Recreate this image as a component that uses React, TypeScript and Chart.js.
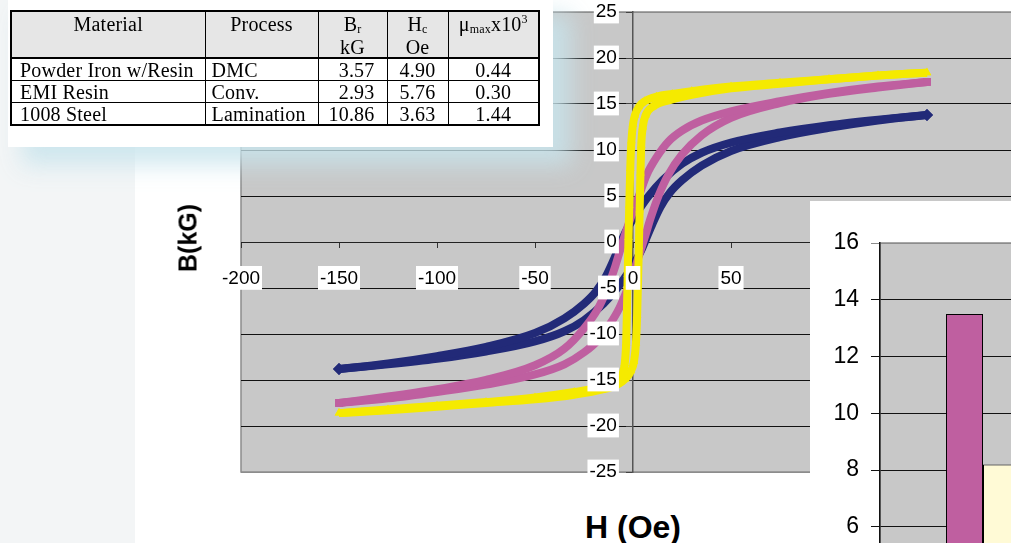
import React, { useEffect, useRef } from 'react';
import { Chart, registerables } from 'chart.js';
Chart.register(...registerables);

type Pt = [number, number];

// ---- Hysteresis loops: [H (Oe), B (kG)] ----
const powderIronUpper: Pt[] = [[150,13.8],[125,13.3],[100,12.7],[75,11.9],[50,10.8],[35,9.7],[25,8.5],[15,6.7],[8,5.0],[3,3.5],[0,2.5],[-4,1.0],[-7,-0.5],[-10,-2.0],[-14,-3.8],[-19,-5.4],[-25,-6.7],[-35,-8.3],[-50,-9.9],[-75,-11.4],[-100,-12.4],[-125,-13.2],[-150,-13.8]];
const powderIronLower: Pt[] = [[-150,-13.8],[-125,-13.3],[-100,-12.7],[-75,-11.9],[-50,-10.8],[-35,-9.7],[-25,-8.5],[-15,-6.7],[-8,-5.0],[-3,-3.5],[0,-2.5],[4,-1.0],[7,0.5],[10,2.0],[14,3.8],[19,5.4],[25,6.7],[35,8.3],[50,9.9],[75,11.4],[100,12.4],[125,13.2],[150,13.8]];
const emiResinUpper: Pt[] = [[150,17.4],[125,16.9],[100,16.2],[75,15.3],[50,14.2],[35,13.2],[25,12.1],[18,10.9],[12,9.2],[7,7.3],[3,5.0],[0,3.3],[-3,1.5],[-6,-0.5],[-9,-2.6],[-13,-5.0],[-18,-7.3],[-25,-9.4],[-35,-11.6],[-50,-13.4],[-75,-15.0],[-100,-16.0],[-125,-16.8],[-150,-17.5]];
const emiResinLower: Pt[] = [[-150,-17.5],[-125,-17.0],[-100,-16.3],[-75,-15.5],[-50,-14.4],[-35,-13.3],[-25,-12.0],[-18,-10.7],[-12,-9.0],[-7,-7.2],[-3,-5.2],[0,-3.5],[3,-1.5],[6,0.5],[9,2.6],[13,5.0],[18,7.3],[25,9.5],[35,11.6],[50,13.5],[75,15.1],[100,16.1],[125,16.8],[150,17.4]];
const steelUpper: Pt[] = [[150,18.4],[125,18.1],[100,17.7],[75,17.3],[50,16.9],[30,16.4],[20,16.1],[12,15.8],[6,15.3],[3,14.7],[1,13.8],[0,12.8],[-0.8,11.0],[-1.4,8.0],[-1.9,4.0],[-2.3,0.5],[-2.7,-3.5],[-3.1,-7.5],[-3.5,-11.0],[-4.2,-13.2],[-5.5,-14.4],[-8,-15.1],[-15,-15.7],[-30,-16.3],[-50,-16.9],[-75,-17.4],[-100,-17.8],[-125,-18.2],[-150,-18.6]];
const steelLower: Pt[] = [[-150,-18.6],[-125,-18.3],[-100,-17.9],[-75,-17.5],[-50,-17.1],[-30,-16.6],[-15,-16.0],[-8,-15.5],[-4,-14.9],[-1,-14.0],[0.5,-13.0],[1.5,-11.0],[2.1,-8.0],[2.6,-4.0],[3.0,-0.5],[3.4,3.5],[3.8,7.5],[4.2,10.5],[5,12.5],[6.5,13.8],[10,14.7],[20,15.5],[30,16.0],[50,16.7],[75,17.2],[100,17.7],[125,18.1],[150,18.4]];

// ---- Inset bar chart ----
const barCategories = [''];
const barSeriesA = [13.5];
const barSeriesB = [8.2];

// ---- Table ----
const tableMaterials = ['Powder Iron w/Resin', 'EMI Resin', '1008 Steel'];
const tableProcesses = ['DMC', 'Conv.', 'Lamination'];
const tableBr = ['3.57', '2.93', '10.86'];
const tableHc = ['4.90', '5.76', '3.63'];
const tableMu = ['0.44', '0.30', '1.44'];

const BLUE = '#222a78';
const MAGENTA = '#bf5fa0';
const YELLOW = '#f5ea00';
const PLOT_GRAY = '#c8c8c8';
const SANS = '"Liberation Sans", Arial, sans-serif';
// y tick labels sit this many H-units left of the H = 0 axis line
const Y_LABEL_OFFSET_H = -8.2;

const plotBg = {
  id: 'plotBg',
  beforeDraw(chart: any) {
    const { ctx, chartArea: a } = chart;
    ctx.save();
    ctx.fillStyle = PLOT_GRAY;
    ctx.fillRect(a.left, a.top, a.right - a.left, a.bottom - a.top);
    ctx.strokeStyle = '#8c8c8c';
    ctx.lineWidth = 1.5;
    ctx.strokeRect(a.left, a.top, a.right - a.left, a.bottom - a.top);
    ctx.restore();
  },
};

const toXY = (pts: Pt[]) => pts.map(([x, y]) => ({ x, y }));

function loopDataset(pts: Pt[], color: string, style: string, radius: number, allPoints: boolean) {
  const last = pts.length - 1;
  return {
    data: toXY(pts),
    showLine: true,
    borderColor: color,
    backgroundColor: color,
    borderWidth: 8,
    borderJoinStyle: 'round',
    cubicInterpolationMode: 'monotone',
    pointStyle: style,
    pointRadius: allPoints ? radius : pts.map((_, i) => (i === 0 || i === last ? radius : 0)),
    pointBorderWidth: 0,
    pointBackgroundColor: color,
  };
}

export default function App() {
  const mainRef = useRef<HTMLCanvasElement | null>(null);
  const barRef = useRef<HTMLCanvasElement | null>(null);

  useEffect(() => {
    const tickFont = { family: SANS, size: 19 };
    const main = new Chart(mainRef.current as HTMLCanvasElement, {
      type: 'scatter',
      data: {
        datasets: [
          loopDataset(steelUpper, YELLOW, 'triangle', 5, true),
          loopDataset(steelLower, YELLOW, 'triangle', 5, true),
          loopDataset(emiResinUpper, MAGENTA, 'rect', 5.5, false),
          loopDataset(emiResinLower, MAGENTA, 'rect', 5.5, false),
          loopDataset(powderIronUpper, BLUE, 'rectRot', 6, false),
          loopDataset(powderIronLower, BLUE, 'rectRot', 6, false),
        ] as any,
      },
      options: {
        responsive: false,
        animation: false,
        events: [],
        layout: { padding: { left: 241, top: 24, right: 40, bottom: 24 } },
        plugins: { legend: { display: false }, tooltip: { enabled: false } },
        scales: {
          x: {
            type: 'linear',
            min: -200,
            max: 200,
            position: { y: 0 } as any,
            ticks: {
              stepSize: 50,
              font: tickFont,
              color: '#000',
              padding: 20,
              maxRotation: 0,
              autoSkip: false,
              showLabelBackdrop: true,
              backdropColor: '#fff',
              backdropPadding: { left: 2, right: 2, top: 1, bottom: 0 },
              z: 2,
            } as any,
            grid: { display: true, drawOnChartArea: false, drawTicks: true, tickLength: 5, color: '#333' },
            border: { display: true, color: '#222', width: 1 },
          },
          y: {
            type: 'linear',
            min: -25,
            max: 25,
            position: { x: Y_LABEL_OFFSET_H } as any,
            ticks: {
              stepSize: 5,
              font: tickFont,
              color: '#000',
              padding: 0,
              showLabelBackdrop: true,
              backdropColor: '#fff',
              backdropPadding: { left: 2, right: 2, top: 1, bottom: 0 },
              z: 2,
            } as any,
            grid: {
              color: (c: any) => (c.tick && Math.abs(c.tick.value) === 25 ? '#8c8c8c' : '#111'),
              lineWidth: 1,
              drawTicks: false,
            },
            border: { display: false },
          },
          yAxisLine: {
            type: 'linear',
            axis: 'y',
            min: -25,
            max: 25,
            position: { x: 0 } as any,
            ticks: { display: false, stepSize: 5 },
            grid: { drawOnChartArea: false, drawTicks: true, tickLength: 6, color: '#444' },
            border: { display: true, color: '#555', width: 1.5 },
          } as any,
        },
      },
      plugins: [plotBg],
    });

    const bar = new Chart(barRef.current as HTMLCanvasElement, {
      type: 'bar',
      data: {
        labels: barCategories,
        datasets: [
          { data: barSeriesA, backgroundColor: MAGENTA, borderColor: '#000', borderWidth: 1 },
          { data: barSeriesB, backgroundColor: '#fffad6', borderColor: '#000', borderWidth: 1 },
        ],
      },
      options: {
        responsive: false,
        animation: false,
        events: [],
        layout: { padding: { left: 0, top: 42, right: 14, bottom: 20 } },
        plugins: { legend: { display: false }, tooltip: { enabled: false } },
        datasets: { bar: { barPercentage: 1, categoryPercentage: 0.359 } } as any,
        scales: {
          x: { display: false },
          y: {
            min: 0,
            max: 16,
            ticks: { stepSize: 2, font: { family: SANS, size: 23 }, color: '#000', padding: 12 },
            grid: {
              color: (c: any) => (c.tick && c.tick.value === 16 ? '#8c8c8c' : '#111'),
              tickLength: 9,
            },
            border: { display: true, color: '#111', width: 1.5 },
            afterFit: (s: any) => {
              s.width = 70;
            },
          },
        },
      },
      plugins: [plotBg],
    });

    return () => {
      main.destroy();
      bar.destroy();
    };
  }, []);

  const th: React.CSSProperties = {
    border: '1.5px solid #000',
    fontWeight: 'normal',
    textAlign: 'center',
    verticalAlign: 'top',
    padding: '2px 3px 0',
    lineHeight: '20px',
    background: '#e6e6e6',
  };
  const td: React.CSSProperties = {
    border: '1.5px solid #000',
    padding: '0 6px',
    lineHeight: '20px',
    height: 21,
    whiteSpace: 'nowrap',
  };
  const subStyle: React.CSSProperties = { fontSize: 12, verticalAlign: 'baseline', position: 'relative', top: 2 };

  return (
    <div
      style={{
        position: 'fixed',
        left: 0,
        top: 0,
        width: 1011,
        height: 543,
        overflow: 'hidden',
        background: '#fff',
      }}
    >
      <div style={{ position: 'absolute', left: 0, top: 0, width: 135, height: 543, background: '#f3f5f6' }} />
      <canvas
        ref={mainRef}
        width={1065}
        height={508}
        style={{ position: 'absolute', left: 0, top: -12, width: 1065, height: 508 }}
      />
      <div
        style={{
          position: 'absolute',
          left: 188,
          top: 238,
          transform: 'translate(-50%, -50%) rotate(-90deg)',
          fontFamily: SANS,
          fontWeight: 'bold',
          fontSize: 25,
          whiteSpace: 'nowrap',
          color: '#000',
        }}
      >
        B(kG)
      </div>
      <div
        style={{
          position: 'absolute',
          left: 633,
          top: 527,
          transform: 'translate(-50%, -50%)',
          fontFamily: SANS,
          fontWeight: 'bold',
          fontSize: 32,
          whiteSpace: 'nowrap',
          color: '#000',
        }}
      >
        H (Oe)
      </div>

      {/* Table overlay */}
      <div
        style={{
          position: 'absolute',
          left: 8,
          top: 0,
          width: 545,
          height: 147,
          background: '#fff',
          boxShadow: '16px 16px 22px 2px rgba(200,228,236,0.85)',
        }}
      >
        <table
          style={{
            position: 'absolute',
            left: 2,
            top: 10,
            borderCollapse: 'collapse',
            border: '2.5px solid #000',
            fontFamily: '"Liberation Serif", "Times New Roman", serif',
            fontSize: 20,
            letterSpacing: 0.2,
            color: '#000',
            tableLayout: 'fixed',
            width: 528,
          }}
        >
          <colgroup>
            <col style={{ width: 194 }} />
            <col style={{ width: 113 }} />
            <col style={{ width: 69 }} />
            <col style={{ width: 61 }} />
            <col style={{ width: 91 }} />
          </colgroup>
          <thead>
            <tr style={{ height: 44, borderBottom: '2.5px solid #000' }}>
              <th style={th}>Material</th>
              <th style={th}>Process</th>
              <th style={th}>
                B<sub style={subStyle}>r</sub>
                <br />
                kG
              </th>
              <th style={th}>
                H<sub style={subStyle}>c</sub>
                <br />
                Oe
              </th>
              <th style={th}>
                μ<sub style={subStyle}>max</sub>x10
                <sup style={{ fontSize: 12, verticalAlign: 'baseline', position: 'relative', top: -8 }}>3</sup>
              </th>
            </tr>
          </thead>
          <tbody>
            {tableMaterials.map((m, i) => (
              <tr key={m}>
                <td style={{ ...td, textAlign: 'left', paddingLeft: 8 }}>{m}</td>
                <td style={{ ...td, textAlign: 'left' }}>{tableProcesses[i]}</td>
                <td style={{ ...td, textAlign: 'right', paddingRight: 12 }}>{tableBr[i]}</td>
                <td style={{ ...td, textAlign: 'center' }}>{tableHc[i]}</td>
                <td style={{ ...td, textAlign: 'center' }}>{tableMu[i]}</td>
              </tr>
            ))}
          </tbody>
        </table>
      </div>

      {/* Inset bar chart */}
      <div style={{ position: 'absolute', left: 810, top: 201, width: 300, height: 560, background: '#fff' }}>
        <canvas ref={barRef} width={290} height={522} style={{ position: 'absolute', left: 0, top: 0, width: 290, height: 522 }} />
      </div>
    </div>
  );
}
